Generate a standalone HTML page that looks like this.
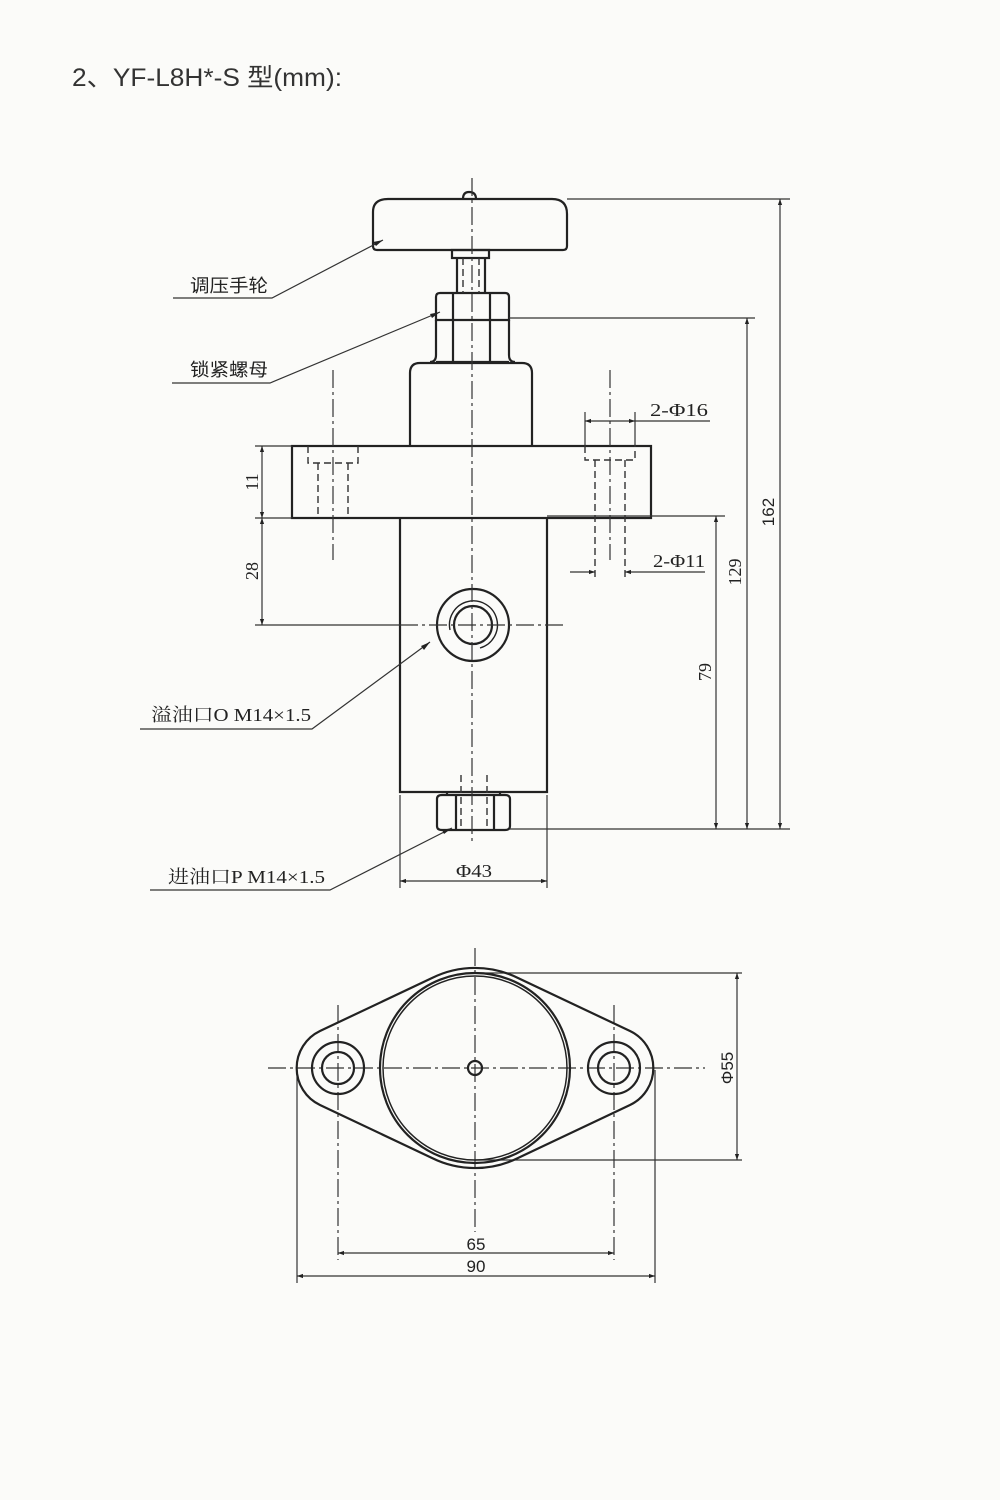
<!DOCTYPE html>
<html><head><meta charset="utf-8">
<style>
html,body{margin:0;padding:0;background:#fbfbf9;}
svg{display:block;}
.t{font-family:"Liberation Serif","Noto Serif CJK SC","Noto Sans CJK SC",serif;fill:#222;}
</style></head>
<body>
<svg width="1000" height="1500" viewBox="0 0 1000 1500" xmlns="http://www.w3.org/2000/svg">
<defs>
<marker id="a" viewBox="0 0 10 10" refX="10" refY="5" markerWidth="10" markerHeight="6" orient="auto-start-reverse" markerUnits="userSpaceOnUse">
<path d="M0,1.5 L10,5 L0,8.5 z" fill="#222"/></marker>
</defs>
<rect width="1000" height="1500" fill="#fbfbf9"/>
<text x="72" y="86" font-family="Liberation Sans,Noto Sans CJK SC,sans-serif" font-size="25" fill="#333" textLength="270" lengthAdjust="spacingAndGlyphs">2、YF-L8H*-S 型(mm):</text>

<g fill="none" stroke="#222" stroke-width="2.2">
<path d="M373,246 L373,212 Q373,199 388,199 L552,199 Q567,199 567,214 L567,246 Q567,250 563,250 L377,250 Q373,250 373,246 Z"/>
<path d="M463,199 Q463,192 469,192 Q476,192 476,199"/>
<rect x="452" y="250" width="37" height="8"/>
<line x1="457" y1="258" x2="457" y2="293"/><line x1="485" y1="258" x2="485" y2="293"/>
<path d="M436,297 Q436,293 440,293 L505,293 Q509,293 509,297 L509,320 L436,320 Z"/>
<line x1="453" y1="293" x2="453" y2="362"/><line x1="490" y1="293" x2="490" y2="362"/>
<path d="M436,320 L436,355 Q436,362 430,362 M509,320 L509,355 Q509,362 515,362"/>
<line x1="436" y1="362" x2="509" y2="362"/>
<path d="M410,445 L410,373 Q410,363 420,363 L522,363 Q532,363 532,373 L532,445"/>
<rect x="292" y="446" width="359" height="72"/>
<path d="M400,518 L400,792 L547,792 L547,518"/>
<path d="M437,799 L437,826 Q437,830 442,830 L505,830 Q510,830 510,826 L510,799 Q510,795 505,795 L442,795 Q437,795 437,799 Z"/>
<line x1="456" y1="795" x2="456" y2="830"/><line x1="494" y1="795" x2="494" y2="830"/>
<line x1="447" y1="792" x2="447" y2="795"/><line x1="500" y1="792" x2="500" y2="795"/>
<circle cx="473" cy="625" r="36"/>
<circle cx="473" cy="625" r="19"/>
</g>
<path d="M450,630 A24,24 0 1 1 480,648" fill="none" stroke="#222" stroke-width="1.4"/>

<g fill="none" stroke="#333" stroke-width="1.4" stroke-dasharray="7,4">
<path d="M308,446 L308,463 L358,463 L358,446"/>
<line x1="318" y1="463" x2="318" y2="518"/><line x1="348" y1="463" x2="348" y2="518"/>
<path d="M585,446 L585,460 L635,460 L635,446"/>
<line x1="595" y1="460" x2="595" y2="578"/><line x1="625" y1="460" x2="625" y2="578"/>
<line x1="463" y1="258" x2="463" y2="293"/><line x1="479" y1="258" x2="479" y2="293"/>
<line x1="461" y1="775" x2="461" y2="830"/><line x1="487" y1="775" x2="487" y2="830"/>
</g>
<g fill="none" stroke="#333" stroke-width="1.2" stroke-dasharray="18,4,3,4">
<line x1="472" y1="178" x2="472" y2="845"/>
<line x1="333" y1="370" x2="333" y2="560"/>
<line x1="610" y1="370" x2="610" y2="560"/>
<line x1="400" y1="625" x2="567" y2="625"/>
<line x1="475" y1="948" x2="475" y2="1232"/>
<line x1="268" y1="1068" x2="705" y2="1068"/>
<line x1="338" y1="1005" x2="338" y2="1260"/>
<line x1="614" y1="1005" x2="614" y2="1260"/>
</g>

<g fill="none" stroke="#333" stroke-width="1.2">
<line x1="567" y1="199" x2="790" y2="199"/>
<line x1="509" y1="318" x2="755" y2="318"/>
<line x1="547" y1="516" x2="725" y2="516"/>
<line x1="510" y1="829" x2="790" y2="829"/>
<line x1="255" y1="446" x2="292" y2="446"/>
<line x1="255" y1="518" x2="292" y2="518"/>
<line x1="255" y1="625" x2="400" y2="625"/>
<line x1="780" y1="199" x2="780" y2="829" marker-start="url(#a)" marker-end="url(#a)"/>
<line x1="747" y1="318" x2="747" y2="829" marker-start="url(#a)" marker-end="url(#a)"/>
<line x1="716" y1="516" x2="716" y2="829" marker-start="url(#a)" marker-end="url(#a)"/>
<line x1="262" y1="446" x2="262" y2="518" marker-start="url(#a)" marker-end="url(#a)"/>
<line x1="262" y1="518" x2="262" y2="625" marker-start="url(#a)" marker-end="url(#a)"/>
<line x1="585" y1="412" x2="585" y2="446"/><line x1="635" y1="412" x2="635" y2="446"/>
<line x1="585" y1="421" x2="635" y2="421" marker-start="url(#a)" marker-end="url(#a)"/>
<line x1="635" y1="421" x2="710" y2="421"/>
<line x1="570" y1="572" x2="595" y2="572" marker-end="url(#a)"/>
<line x1="650" y1="572" x2="625" y2="572" marker-end="url(#a)"/>
<line x1="650" y1="572" x2="705" y2="572"/>
<line x1="400" y1="795" x2="400" y2="888"/><line x1="547" y1="795" x2="547" y2="888"/>
<line x1="400" y1="881" x2="547" y2="881" marker-start="url(#a)" marker-end="url(#a)"/>
<polyline points="173,298 272,298 383,240" />
<polyline points="172,383 270,383 440,312" />
<polyline points="140,729 312,729 430,642" />
<polyline points="150,890 330,890 452,828" />
<line x1="475" y1="973" x2="742" y2="973"/>
<line x1="475" y1="1160" x2="742" y2="1160"/>
<line x1="737" y1="973" x2="737" y2="1160" marker-start="url(#a)" marker-end="url(#a)"/>
<line x1="338" y1="1253" x2="614" y2="1253" marker-start="url(#a)" marker-end="url(#a)"/>
<line x1="297" y1="1070" x2="297" y2="1283"/><line x1="655" y1="1070" x2="655" y2="1283"/>
<line x1="297" y1="1276" x2="655" y2="1276" marker-start="url(#a)" marker-end="url(#a)"/>
</g>
<g fill="#222">
<path d="M383,240 l-10,2 l3,4 z"/>
<path d="M440,312 l-10,2 l2,4 z"/>
<path d="M430,642 l-9,4 l3,4 z"/>
<path d="M452,828 l-10,2 l2,4 z"/>
</g>

<g fill="none" stroke="#222" stroke-width="2.2">
<path d="M320,1031 L432,978 A97,97 0 0 1 518,978 L630,1031 A41,41 0 0 1 630,1105 L518,1158 A97,97 0 0 1 432,1158 L320,1105 A41,41 0 0 1 320,1031 Z"/>
<circle cx="475" cy="1068" r="95"/>
<circle cx="475" cy="1068" r="92" stroke-width="1.5"/>
<circle cx="475" cy="1068" r="7"/>
<circle cx="338" cy="1068" r="26"/>
<circle cx="338" cy="1068" r="16"/>
<circle cx="614" cy="1068" r="26"/>
<circle cx="614" cy="1068" r="16"/>
</g>

<g class="t" font-size="18">
<text x="190" y="292" font-family="Noto Sans CJK SC,sans-serif" textLength="78" lengthAdjust="spacingAndGlyphs">调压手轮</text>
<text x="190" y="376" font-family="Noto Sans CJK SC,sans-serif" textLength="78" lengthAdjust="spacingAndGlyphs">锁紧螺母</text>
<text x="151" y="721" textLength="160" lengthAdjust="spacingAndGlyphs">溢油口O M14×1.5</text>
<text x="168" y="883" textLength="157" lengthAdjust="spacingAndGlyphs">进油口P M14×1.5</text>
<text x="650" y="416" textLength="58" lengthAdjust="spacingAndGlyphs">2-Φ16</text>
<text x="653" y="567" textLength="52" lengthAdjust="spacingAndGlyphs">2-Φ11</text>
<text x="456" y="877" textLength="36" lengthAdjust="spacingAndGlyphs">Φ43</text>
<text transform="translate(258,482) rotate(-90)" text-anchor="middle">11</text>
<text transform="translate(258,571) rotate(-90)" text-anchor="middle">28</text>
<text transform="translate(711,672) rotate(-90)" text-anchor="middle">79</text>
<text transform="translate(741,572) rotate(-90)" text-anchor="middle">129</text>
</g>
<g font-family="Liberation Sans,sans-serif" font-size="17" fill="#222">
<text transform="translate(774,512) rotate(-90)" text-anchor="middle">162</text>
<text x="476" y="1250" text-anchor="middle">65</text>
<text x="476" y="1272" text-anchor="middle">90</text>
<text transform="translate(733,1068) rotate(-90)" text-anchor="middle">Φ55</text>
</g>
</svg>
</body></html>
